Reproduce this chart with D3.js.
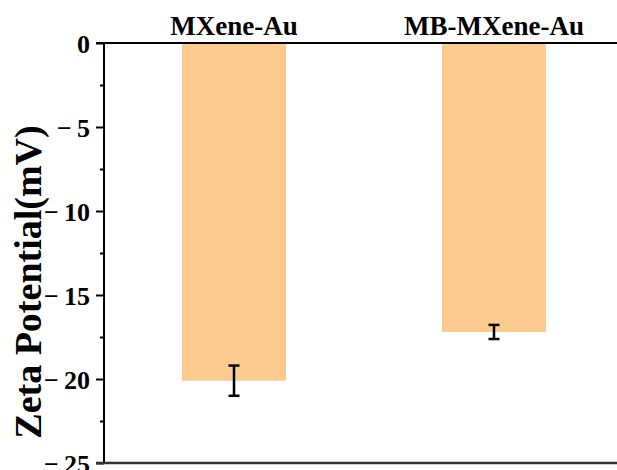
<!DOCTYPE html>
<html><head><meta charset="utf-8">
<script src="https://cdn.jsdelivr.net/npm/d3@7"></script>
<style>body{margin:0;background:#fff}svg{display:block}</style>
</head><body>
<svg id="c" width="617" height="470"></svg>
<script>
const categories = ["MXene-Au", "MB-MXene-Au"];
const values = [-20.1, -17.2];
const errors = [0.9, 0.42];
const yTicks = [0, -5, -10, -15, -20, -25];
const yMinorTicks = [-2.5, -7.5, -12.5, -17.5, -22.5];

(function () {
const svg = d3.select("#c");
const mL = 104, mR = 624, mT = 43, mB = 463;
const font = "'Liberation Serif','Times New Roman',serif";

const x = d3.scaleBand().domain(categories).range([mL, mR]).paddingInner(0.6).paddingOuter(0.3);
const y = d3.scaleLinear().domain([0, -25]).range([mT, mB]);

// bars
svg.selectAll("rect.bar").data(categories).join("rect")
  .attr("class", "bar")
  .attr("x", d => x(d))
  .attr("width", x.bandwidth())
  .attr("y", y(0))
  .attr("height", (d, i) => y(values[i]) - y(0))
  .attr("fill", "#FDCB8F");

// error bars
const eg = svg.append("g").attr("stroke", "#000").attr("stroke-width", 2.5);
categories.forEach((c, i) => {
  const cx = x(c) + x.bandwidth() / 2;
  const y1 = y(values[i] + errors[i]), y2 = y(values[i] - errors[i]);
  eg.append("line").attr("x1", cx).attr("x2", cx).attr("y1", y1).attr("y2", y2);
  eg.append("line").attr("x1", cx - 5.5).attr("x2", cx + 5.5).attr("y1", y1).attr("y2", y1);
  eg.append("line").attr("x1", cx - 5.5).attr("x2", cx + 5.5).attr("y1", y2).attr("y2", y2);
});

// left axis
const ax = svg.append("g").attr("transform", `translate(${mL},0)`)
  .call(d3.axisLeft(y).tickValues(yTicks).tickSize(8).tickPadding(6)
    .tickFormat(d => d === 0 ? "0" : "\u2212\u2009" + Math.abs(d)));
ax.select(".domain").attr("stroke-width", 2).attr("d", `M0,${mT}V${mB}`);
ax.selectAll(".tick line").attr("stroke-width", 2);
ax.selectAll(".tick text").attr("font-family", font).attr("font-weight", "bold")
  .attr("font-size", 26).attr("fill", "#000").attr("dy", "0.35em");
svg.append("g").attr("transform", `translate(${mL},0)`)
  .call(d3.axisLeft(y).tickValues(yMinorTicks).tickSize(4).tickFormat(""))
  .call(g => g.select(".domain").remove())
  .selectAll(".tick line").attr("stroke-width", 2);

// top axis with category labels
const tx = svg.append("g").attr("transform", `translate(0,${mT})`)
  .call(d3.axisTop(x).tickSize(0).tickPadding(8));
tx.select(".domain").attr("stroke-width", 2).attr("d", `M${mL - 8},0H${mR}`);
tx.selectAll(".tick text").attr("font-family", font).attr("font-weight", "bold")
  .attr("font-size", 27).attr("fill", "#000");

// bottom axis line
svg.append("g").attr("transform", `translate(0,${mB})`)
  .call(d3.axisBottom(x).tickSize(0).tickFormat(""))
  .call(g => g.select(".domain").attr("stroke-width", 2.5).attr("stroke", "#333").attr("d", `M${mL - 8},0H${mR}`));

// y label
svg.append("text")
  .attr("transform", `translate(41,282) rotate(-90)`)
  .attr("text-anchor", "middle")
  .attr("font-family", font).attr("font-weight", "bold").attr("font-size", 38)
  .text("Zeta Potential(mV)");
})();
</script>
</body></html>
